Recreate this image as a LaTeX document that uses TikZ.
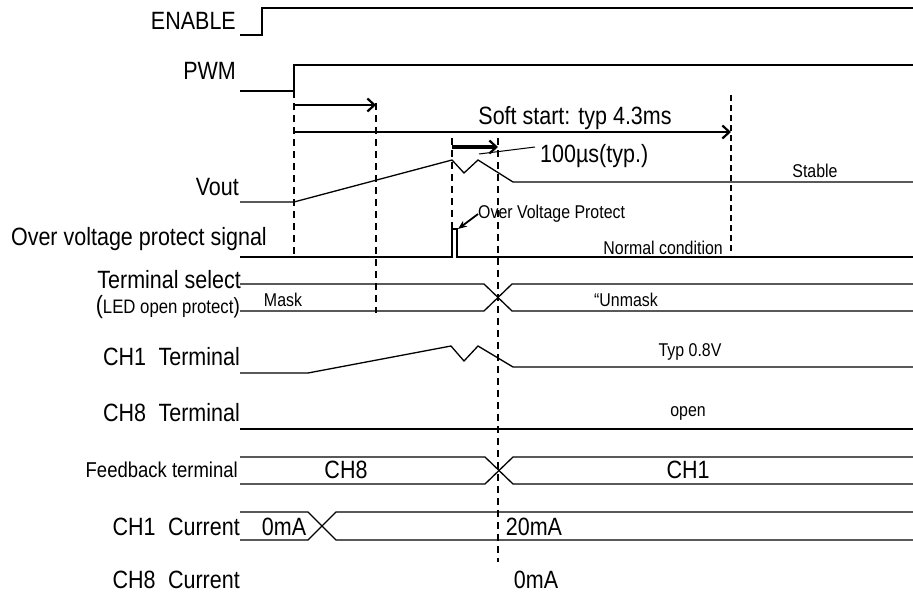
\documentclass[tikz,border=0pt]{standalone}
\usepackage{fontspec}
\setmainfont{Liberation Sans}[FakeStretch=0.86]
\usetikzlibrary{arrows.meta}

\begin{document}
\begin{tikzpicture}
  [x=1pt,y=-1pt,
   sig/.style={line width=1.3pt},
   markline/.style={line width=1.8pt,dash pattern=on 7pt off 5pt},
   endline/.style={line width=2.6pt,dash pattern=on 6pt off 4pt},
   spanarrow/.style={line width=2.2pt,-{Straight Barb[length=7pt,width=13pt,line width=2.2pt]}},
   big/.style={font=\fontsize{25}{25}\selectfont,inner sep=0pt},
   mid/.style={font=\fontsize{21.5}{21.5}\selectfont,inner sep=0pt},
   small/.style={font=\fontsize{18.5}{18.5}\selectfont,inner sep=0pt},
   lbl/.style={big,anchor=east}]
  \useasboundingbox (0,0) rectangle (913,593);

  % signal names
  \node[lbl] (enable) at (236,21) {ENABLE};
  \node[lbl] (pwm) at (236,71) {PWM};
  \node[lbl] (vout) at (239,187) {Vout};
  \node[lbl] (ovp) at (267,239) {Over voltage protect signal};
  \node[lbl] (tsel) at (241,280) {Terminal select};
  \node[lbl] (ledop) at (240,307) {(\fontsize{19.5}{19.5}\selectfont LED open protect\fontsize{22}{22}\selectfont)};
  \node[lbl] (ch1t) at (240,357) {CH1\enspace Terminal};
  \node[lbl] (ch8t) at (240,413) {CH8\enspace Terminal};
  \node[mid,anchor=east] (fb) at (238,470) {Feedback terminal};
  \node[lbl] (ch1c) at (240,527) {CH1\enspace Current};
  \node[lbl] (ch8c) at (240,580) {CH8\enspace Current};

  % waveforms
  \draw[sig] (240,35) -- (262,35) -- (262,8) -- (913,8);
  \draw[sig] (240,91) -- (294,91) -- (294,65) -- (913,65);
  \draw[sig] (240,202) -- (294,202) -- (452,160) -- (464,173) -- (478,160) -- (513,182) -- (913,182);
  \draw[sig] (240,257) -- (452,257) -- (452,229) -- (457,229) -- (457,257) -- (913,257);
  \draw[sig] (240,284) -- (484,284) -- (512,311) -- (913,311);
  \draw[sig] (240,311) -- (484,311) -- (512,284) -- (913,284);
  \draw[sig] (240,373) -- (308,373) -- (451,346) -- (464,361) -- (478,346) -- (513,367) -- (913,367);
  \draw[sig] (240,429) -- (913,429);
  \draw[sig] (240,457) -- (485,457) -- (513,484) -- (913,484);
  \draw[sig] (240,484) -- (485,484) -- (513,457) -- (913,457);
  \draw[sig] (240,512) -- (308,512) -- (336,540) -- (913,540);
  \draw[sig] (240,540) -- (308,540) -- (336,512) -- (913,512);

  % timing marks
  \coordinate (t0) at (294,91);
  \coordinate (t1) at (376,103);
  \coordinate (t2) at (452,138);
  \coordinate (t3) at (498,138);
  \coordinate (t4) at (731,95);
  \draw[markline] (t0) -- (294,254);
  \draw[markline] (t1) -- (376,313);
  \draw[markline] (t2) -- (452,229);
  \draw[markline] (t3) -- (498,562);
  \draw[endline] (t4) -- (731,252);

  \coordinate (a0) at (294,105);
  \coordinate (a1) at (376,105);
  \coordinate (b0) at (294,132);
  \coordinate (b1) at (731,132);
  \coordinate (c0) at (452,147);
  \coordinate (c1) at (498,147);
  \draw[spanarrow] (a0) -- (a1);
  \draw[spanarrow] (b0) -- (b1);
  \draw[spanarrow,line width=3.4pt] (c0) -- (c1);

  % annotations
  \node[big] (soft) at (575,118) {Soft start: typ 4.3ms};
  \node[big,anchor=west] (dly) at (540,156) {100µs(typ.)};
  \coordinate (lead) at (479,154);
  \draw[line width=1pt] (535,147) -- (lead);
  \node[small] (stable) at (815,171) {Stable};
  \node[small,anchor=west] (ovpnote) at (478,214) {Over Voltage Protect};
  \draw[line width=1.8pt,-{Stealth[length=9pt,width=7pt]}] (ovpnote.west) -- (458,229);
  \node[small,anchor=east] (normal) at (723,248) {Normal condition};
  \node[small] (mask) at (283,300) {Mask};
  \node[small] (unmask) at (626,300) {“Unmask};
  \node[small] (typv) at (690,352) {Typ 0.8V};
  \node[small] (open) at (688,413) {open};
  \node[big] (fbch8) at (346,470) {CH8};
  \node[big] (fbch1) at (688,470) {CH1};
  \node[big] (cur0) at (284,527) {0mA};
  \node[big] (cur20) at (534,527) {20mA};
  \node[big] (cur8) at (536,580) {0mA};
\end{tikzpicture}
\end{document}
